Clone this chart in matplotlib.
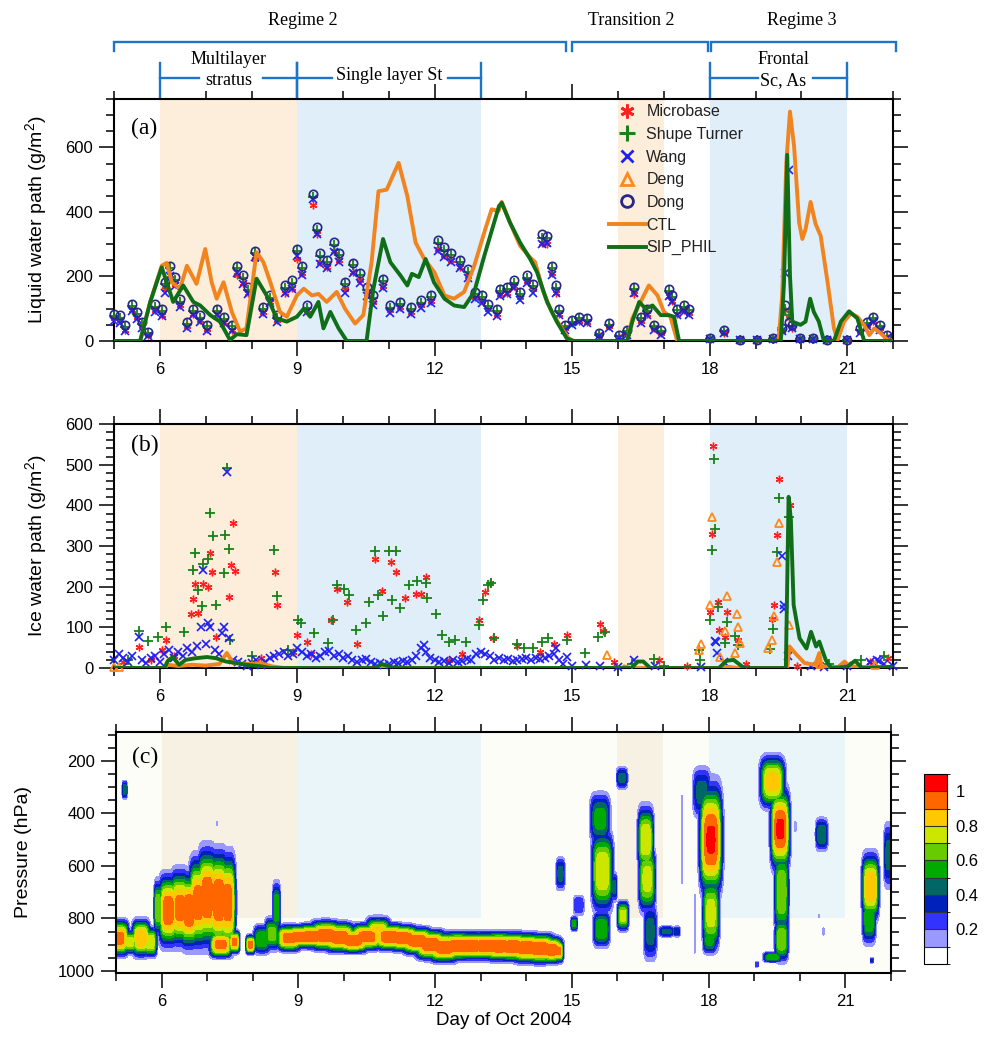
import numpy as np
import matplotlib
matplotlib.use('Agg')
import matplotlib.pyplot as plt
from matplotlib.ticker import MultipleLocator, FixedLocator
from matplotlib.colors import ListedColormap, BoundaryNorm
from matplotlib.lines import Line2D
from matplotlib.patches import Rectangle
import matplotlib.transforms as mtransforms

plt.rcParams['font.family'] = ['Liberation Sans', 'DejaVu Sans']
plt.rcParams['mathtext.fontset'] = 'custom'
plt.rcParams['mathtext.rm'] = 'Liberation Sans'
plt.rcParams['mathtext.it'] = 'Liberation Sans:italic'
SERIF = ['Liberation Serif', 'DejaVu Serif']

# ---------------- shaded periods ----------------
shade_start = [6, 9, 16, 18]
shade_end = [9, 13, 17, 21]
shade_kind = ['tan', 'blue', 'tan', 'blue']

# ---------------- LWP observations ----------------
t_lwp = [5.00, 5.13, 5.24, 5.39, 5.50, 5.60, 5.75, 5.90, 6.04, 6.11,
         6.22, 6.33, 6.44, 6.59, 6.73, 6.88, 7.02, 7.24, 7.39, 7.57,
         7.68, 7.82, 7.93, 8.08, 8.26, 8.41, 8.55, 8.73, 8.88, 8.99,
         9.10, 9.21, 9.35, 9.42, 9.50, 9.64, 9.79, 9.90, 10.04, 10.22,
         10.37, 10.51, 10.66, 10.88, 11.03, 11.25, 11.47, 11.69, 11.91, 12.06,
         12.21, 12.36, 12.54, 12.72, 12.87, 13.02, 13.16, 13.35, 13.43, 13.57,
         13.72, 13.86, 14.01, 14.15, 14.33, 14.44, 14.55, 14.65, 14.70, 14.85,
         15.00, 15.14, 15.32, 15.58, 15.80, 16.02, 16.20, 16.35, 16.49, 16.64,
         16.78, 16.93, 17.11, 17.18, 17.29, 17.43, 17.54, 18.01, 18.30, 18.66,
         19.03, 19.39, 19.57, 19.65, 19.72, 19.79, 19.97, 20.26, 20.55, 20.99,
         21.28, 21.43, 21.57, 21.72, 21.86]
lwp_dong = [85, 80, 50, 115, 90, 60, 29, 113, 100, 182,
            233, 198, 130, 60, 100, 80, 50, 100, 75, 50,
            233, 203, 167, 280, 105, 141, 80, 172, 188, 285,
            233, 110, 457, 354, 272, 252, 308, 272, 182, 241,
            211, 167, 141, 193, 110, 121, 105, 126, 141, 313,
            290, 272, 252, 223, 152, 141, 115, 100, 162, 167,
            188, 152, 203, 177, 331, 326, 233, 172, 100, 50,
            65, 75, 70, 24, 55, 18, 33, 167, 75, 100,
            50, 33, 162, 141, 100, 110, 100, 8, 33, 3,
            3, 8, 40, 110, 60, 50, 8, 8, 3, 3,
            40, 60, 75, 50, 18]
lwp_microbase = [70, 65, 35, 95, 75, 45, 20, 95, 80, 160,
                 205, 175, 110, 45, 85, 65, 38, 85, 60, 35,
                 205, 180, 150, 255, 90, 120, 65, 150, 165, 255,
                 210, 95, 420, 330, 245, 230, 280, 250, 160, 215,
                 190, 145, 120, 170, 95, 105, 90, 110, 125, 285,
                 265, 250, 230, 200, 135, 125, 100, 85, 145, 150,
                 170, 135, 185, 160, 305, 300, 210, 150, 85, 40,
                 55, 62, 58, 18, 45, 12, 25, 145, 62, 85,
                 40, 25, 140, 125, 85, 95, 88, 5, 25, 2,
                 2, 5, 30, 95, 70, 40, 5, 5, 2, 2,
                 30, 50, 62, 40, 12]
lwp_shupe = [78, 72, 42, 108, 82, 52, 25, 105, 92, 175,
             225, 190, 122, 52, 92, 72, 45, 92, 68, 45,
             225, 195, 158, 272, 98, 132, 72, 165, 180, 278,
             225, 102, 445, 345, 262, 245, 298, 265, 175, 235,
             205, 158, 132, 185, 102, 115, 98, 118, 135, 305,
             282, 265, 245, 215, 145, 135, 108, 92, 155, 160,
             180, 145, 195, 170, 320, 318, 225, 165, 92, 45,
             60, 70, 65, 20, 50, 15, 30, 160, 70, 92,
             45, 30, 155, 135, 95, 105, 95, 6, 30, 2,
             2, 6, 35, 100, 80, 45, 6, 6, 2, 2,
             35, 55, 70, 45, 15]
lwp_wang = [62, 55, 30, 92, 68, 40, 15, 90, 78, 150,
            200, 170, 105, 40, 80, 60, 30, 80, 55, 30,
            210, 178, 145, 260, 85, 118, 60, 148, 160, 262,
            205, 90, 440, 330, 240, 225, 275, 245, 150, 210,
            180, 140, 112, 165, 88, 100, 85, 102, 118, 280,
            260, 245, 225, 195, 130, 118, 90, 78, 140, 145,
            165, 128, 180, 150, 300, 305, 205, 148, 80, 35,
            50, 58, 55, 15, 40, 10, 20, 150, 55, 80,
            35, 20, 140, 120, 80, 90, 80, 5, 25, 2,
            2, 5, 30, 212, 530, 40, 5, 5, 2, 2,
            25, 45, 60, 35, 10]

# ---------------- LWP model ----------------
ctl_lwp_t = [5.0, 5.57, 5.79, 6.04, 6.15, 6.26, 6.44, 6.59, 6.80, 6.99, 7.13, 7.24, 7.39, 7.57,
             7.75, 7.89, 8.11, 8.26, 8.41, 8.62, 8.77, 8.99, 9.14, 9.32, 9.46, 9.64, 9.86,
             10.04, 10.26, 10.44, 10.62, 10.77, 10.95, 11.21, 11.40, 11.58, 11.77, 11.99,
             12.21, 12.42, 12.64, 12.86, 13.10, 13.24, 13.39, 13.46, 13.64, 13.86, 14.08,
             14.19, 14.37, 14.55, 14.77, 14.92, 15.03, 16.20, 16.31, 16.49, 16.67, 16.86,
             17.00, 17.14, 17.29, 19.50, 19.58, 19.67, 19.75, 19.84, 19.95, 20.02, 20.09,
             20.20, 20.31, 20.42, 20.57, 20.71, 20.79, 20.93, 21.08, 21.22, 21.37, 21.48,
             21.59, 21.73, 21.88, 22.0]
ctl_lwp_v = [0, 0, 121, 233, 242, 182, 162, 233, 177, 285, 182, 131, 182, 90,
             29, 39, 275, 244, 182, 90, 75, 141, 162, 141, 146, 121, 152,
             100, 54, 80, 244, 464, 469, 552, 449, 305, 254, 213,
             141, 131, 152, 233, 346, 408, 403, 431, 367, 295, 259,
             244, 152, 90, 39, 8, 0, 0, 70, 121, 172, 141,
             90, 75, 0, 0, 141, 552, 711, 603, 367, 316, 346,
             431, 362, 326, 182, 39, 3, 60, 85, 75, 49, 18,
             39, 24, 3, 0]
sip_lwp_t = [5.0, 5.57, 5.79, 6.04, 6.15, 6.29, 6.51, 6.73, 6.88, 7.10, 7.31, 7.53, 7.68, 7.89,
             8.11, 8.33, 8.55, 8.77, 8.99, 9.14, 9.28, 9.46, 9.57, 9.72, 9.90, 10.08, 10.51,
             10.66, 10.87, 11.03, 11.25, 11.40, 11.50, 11.65, 11.80, 11.98, 12.21, 12.42,
             12.64, 12.86, 13.08, 13.40, 13.46, 13.64, 13.86, 14.08, 14.23, 14.45, 14.66,
             14.88, 15.03, 16.20, 16.31, 16.46, 16.60, 16.75, 16.93, 17.11, 17.22, 17.33,
             19.55, 19.62, 19.69, 19.75, 19.80, 19.98, 20.09, 20.19, 20.27, 20.38, 20.49,
             20.71, 20.86, 21.04, 21.22, 21.37, 22.0]
sip_lwp_v = [0, 0, 121, 228, 182, 121, 172, 121, 110, 80, 60, 3, 21, 18,
             193, 141, 70, 60, 75, 100, 75, 121, 39, 90, 39, 0, 0,
             162, 316, 244, 203, 172, 208, 198, 254, 182, 131, 110,
             105, 152, 264, 418, 428, 367, 305, 254, 213, 121, 60,
             8, 0, 0, 60, 121, 100, 110, 80, 80, 75, 0,
             0, 182, 577, 203, 60, 50, 60, 131, 90, 60, 0,
             0, 60, 92, 70, 0, 0]

# ---------------- IWP observations ----------------
mb_iwp_t = [5.2, 5.54, 5.8, 6.04, 6.13, 6.3, 6.68, 6.73, 6.77, 6.84, 6.94, 7.05, 7.10, 7.14,
            7.23, 7.51, 7.55, 7.59, 7.64, 8.2, 8.51, 8.55, 8.9, 9.00, 9.2, 9.3, 9.73, 9.86,
            10.09, 10.3, 10.70, 10.84, 11.04, 11.15, 11.36, 11.58, 11.69, 11.80, 12.3,
            12.6, 12.96, 13.10, 13.20, 13.26, 13.79, 14.3, 14.6, 14.88, 15.61, 15.67,
            15.9, 16.9, 17.5, 18.01, 18.05, 18.08, 18.17, 18.21, 18.34, 18.37, 18.62,
            18.8, 19.36, 19.41, 19.46, 19.50, 19.75, 19.9, 20.4, 21.5, 21.9]
mb_iwp_v = [15, 52, 20, 44, 70, 30, 134, 170, 206, 136, 206, 200, 283, 237,
            77, 175, 253, 357, 239, 25, 235, 155, 40, 81, 64, 35, 118, 194,
            162, 60, 267, 189, 261, 237, 171, 183, 183, 225, 20,
            35, 119, 187, 208, 74, 54, 40, 60, 82, 108, 92,
            15, 20, 5, 139, 329, 546, 163, 93, 77, 137, 68,
            10, 120, 155, 327, 465, 400, 5, 10, 15, 25]
st_iwp_t = [5.3, 5.55, 5.75, 5.96, 6.13, 6.53, 6.73, 6.77, 6.84, 6.91, 6.95, 7.05, 7.10, 7.16,
            7.23, 7.40, 7.42, 7.46, 7.50, 7.53, 8.0, 8.48, 8.55, 8.8, 9.01, 9.08, 9.37,
            9.66, 9.77, 9.86, 10.02, 10.12, 10.28, 10.50, 10.57, 10.69, 10.75, 10.86,
            11.00, 11.07, 11.15, 11.25, 11.43, 11.62, 11.80, 11.84, 12.02, 12.16, 12.31,
            12.45, 12.67, 12.96, 13.06, 13.15, 13.22, 13.30, 13.79, 13.94, 14.15, 14.33,
            14.48, 14.88, 15.28, 15.57, 15.72, 16.3, 16.78, 17.0, 17.76, 17.79, 18.01,
            18.05, 18.09, 18.12, 18.17, 18.34, 18.37, 18.55, 18.62, 19.32, 19.39, 19.46,
            19.50, 19.72, 20.6, 21.3, 21.8]
st_iwp_v = [20, 92, 67, 77, 101, 88, 240, 282, 193, 152, 257, 267, 382, 325,
            154, 234, 327, 491, 292, 69, 30, 290, 178, 45, 118, 110, 87,
            61, 118, 204, 194, 180, 94, 110, 163, 289, 180, 127,
            289, 168, 289, 148, 204, 213, 209, 173, 134, 81, 65,
            69, 65, 106, 167, 204, 209, 75, 59, 49, 49, 65,
            73, 69, 36, 77, 89, 10, 21, 5, 44, 20, 118,
            290, 514, 343, 149, 61, 112, 79, 57, 46, 95, 286,
            417, 372, 10, 20, 30]
wang_iwp_t = [5.0, 5.1, 5.2, 5.3, 5.4, 5.54, 5.6, 5.7, 5.8, 5.9, 6.0, 6.1, 6.2, 6.3, 6.4, 6.5,
              6.6, 6.7, 6.8, 6.9, 6.95, 7.0, 7.06, 7.1, 7.2, 7.3, 7.35, 7.4, 7.46, 7.5, 7.6,
              7.7, 7.8, 7.9, 8.0, 8.1, 8.2, 8.3, 8.4, 8.5, 8.6, 8.7, 8.8, 8.9, 9.0, 9.1, 9.2,
              9.3, 9.4, 9.5, 9.6, 9.7, 9.8, 9.9, 10.0, 10.1, 10.2, 10.3, 10.4, 10.5, 10.6,
              10.7, 10.8, 10.9, 11.0, 11.1, 11.2, 11.3, 11.4, 11.5, 11.6, 11.7, 11.76, 11.8,
              11.9, 12.0, 12.1, 12.2, 12.3, 12.4, 12.5, 12.6, 12.7, 12.8, 12.9, 13.0, 13.1,
              13.2, 13.3, 13.4, 13.5, 13.6, 13.7, 13.8, 13.9, 14.0, 14.1, 14.2, 14.3, 14.4,
              14.5, 14.6, 14.65, 14.7, 14.8, 14.88, 15.0, 15.3, 15.6, 16.0, 16.35, 16.8, 17.8,
              18.11, 18.13, 18.16, 18.3, 19.57, 19.61, 19.63, 19.7, 20.2, 20.5, 21.0, 21.5,
              21.65, 21.7, 21.8, 22.0]
wang_iwp_v = [20, 35, 25, 15, 30, 77, 20, 12, 25, 30, 15, 35, 45, 25, 40, 30,
              50, 40, 55, 100, 240, 60, 110, 100, 45, 35, 85, 100, 482, 75, 20,
              15, 10, 5, 12, 20, 8, 15, 25, 30, 35, 40, 30, 35, 50, 40, 30,
              35, 25, 30, 40, 42, 30, 35, 25, 30, 20, 15, 20, 22, 15,
              10, 12, 8, 10, 15, 12, 18, 15, 20, 30, 50, 57, 40,
              25, 20, 15, 18, 12, 20, 15, 18, 22, 20, 35, 40, 35,
              30, 20, 25, 20, 22, 18, 20, 22, 25, 20, 25, 22, 25,
              30, 35, 50, 20, 10, 26, 5, 8, 5, 3, 20, 5, 3,
              66, 65, 37, 15, 275, 155, 145, 30, 5, 3, 5, 15,
              20, 18, 10, 5]
deng_iwp_t = [5.0, 5.1, 15.76, 17.77, 17.81, 18.00, 18.05, 18.22, 18.34, 18.37, 18.55, 18.59,
              18.62, 18.66, 19.28, 19.36, 19.41, 19.47, 19.50, 19.72, 20.4, 21.6]
deng_iwp_v = [2, 2, 32, 44, 58, 155, 372, 27, 92, 177, 36, 134,
              101, 62, 49, 69, 127, 261, 356, 106, 10, 8]

# ---------------- IWP model ----------------
ctl_iwp_t = [5.0, 6.1, 6.17, 6.4, 6.7, 7.0, 7.3, 7.46, 7.6, 8.0, 8.2, 8.45, 8.7, 16.1, 16.13,
             16.3, 18.2, 18.4, 18.6, 19.69, 19.74, 19.86, 20.07, 20.3, 20.39, 20.44, 20.8,
             20.94, 21.05, 22.0]
ctl_iwp_v = [0, 0, 8, 5, 8, 6, 10, 37, 12, 10, 12, 4, 0, 0, 4,
             0, 0, 3, 0, 0, 53, 37, 12, 8, 37, 4, 2,
             16, 4, 0]
sip_iwp_t = [5.0, 6.1, 6.17, 6.28, 6.42, 6.56, 6.77, 7.03, 7.23, 7.44, 7.68, 7.88, 8.22, 8.41,
             10.7, 10.84, 11.06, 11.2, 16.3, 16.42, 16.55, 16.7, 18.2, 18.37, 18.52, 18.75,
             19.66, 19.72, 19.77, 19.83, 19.96, 20.11, 20.21, 20.32, 20.39, 20.53, 20.65,
             21.0, 21.17, 21.32, 22.0]
sip_iwp_v = [0, 0, 17, 27, 8, 20, 24, 27, 24, 16, 12, 8, 4, 0,
             0, 10, 2, 0, 0, 16, 16, 0, 0, 18, 20, 0,
             0, 421, 364, 155, 73, 48, 89, 53, 65, 20, 0,
             3, 18, 0, 3]

# ---------------- cloud fraction features (panel c) ----------------
# each feature: centre day, centre pressure, time half-scale, pressure half-scale, peak fraction
cld_t = [5.08, 5.30, 5.55, 5.75, 5.19, 5.92, 6.15, 6.40, 6.60, 6.80, 7.00, 7.25, 7.45,
         7.30, 7.60, 7.22, 7.95, 8.20, 8.52, 8.42,
         8.80, 9.05, 9.30, 9.60, 9.90, 10.20, 10.50, 10.75, 11.00, 11.30, 11.60, 11.90,
         12.20, 12.50, 12.80, 13.10, 13.40, 13.70, 14.00, 14.30, 14.55, 14.70,
         14.75, 15.05, 15.15, 15.62, 15.67, 15.65, 15.93, 16.10, 16.12, 16.62, 16.65,
         16.72, 17.08, 17.30, 17.42, 17.70, 17.85, 18.05, 18.05, 18.02, 19.40, 19.57,
         19.60, 19.60, 19.40, 19.06, 19.90, 20.48, 20.52, 20.42, 21.55, 21.52, 21.95,
         21.58]
cld_p = [875, 890, 875, 890, 310, 760, 770, 760, 770, 740, 720, 730, 740,
         900, 890, 440, 900, 880, 760, 860,
         875, 870, 868, 865, 872, 884, 870, 852, 870, 875, 885, 900,
         910, 905, 905, 905, 906, 908, 912, 915, 920, 925,
         630, 820, 750, 420, 620, 840, 680, 265, 790, 500, 650,
         850, 850, 850, 500, 820, 320, 500, 780, 880, 280, 460,
         700, 880, 948, 975, 450, 480, 850, 790, 680, 800, 560,
         960]
cld_st = [0.16, 0.14, 0.16, 0.12, 0.045, 0.07, 0.17, 0.17, 0.16, 0.16, 0.17, 0.17, 0.14,
          0.2, 0.09, 0.017, 0.08, 0.15, 0.07, 0.13,
          0.22, 0.28, 0.28, 0.28, 0.28, 0.28, 0.28, 0.22, 0.28, 0.28, 0.28, 0.28,
          0.28, 0.28, 0.28, 0.28, 0.28, 0.28, 0.28, 0.28, 0.2, 0.09,
          0.08, 0.06, 0.10, 0.18, 0.19, 0.15, 0.05, 0.10, 0.10, 0.14, 0.15,
          0.12, 0.14, 0.06, 0.013, 0.013, 0.16, 0.20, 0.15, 0.12, 0.22, 0.17,
          0.13, 0.12, 0.16, 0.035, 0.022, 0.11, 0.017, 0.013, 0.15, 0.12, 0.09,
          0.028]
cld_sp = [48, 32, 50, 40, 25, 75, 95, 100, 100, 120, 130, 130, 130,
          35, 30, 8, 25, 40, 70, 45,
          35, 31, 33, 40, 40, 33, 36, 40, 36, 35, 36, 40,
          40, 38, 37, 37, 39, 39, 40, 40, 35, 30,
          45, 20, 30, 70, 110, 50, 40, 30, 40, 90, 90,
          80, 15, 15, 180, 120, 70, 150, 100, 40, 70, 110,
          120, 60, 14, 8, 20, 45, 15, 8, 90, 70, 90,
          8]
cld_amp = [0.95, 0.75, 0.90, 0.80, 0.50, 0.70, 0.98, 0.95, 1.00, 0.97, 1.00, 1.00, 0.97,
           0.95, 0.95, 0.15, 0.97, 0.60, 0.60, 0.65,
           0.96, 0.99, 0.99, 0.99, 0.99, 0.99, 0.97, 0.85, 0.99, 0.99, 0.99, 0.99,
           0.99, 0.99, 0.99, 0.99, 0.99, 0.99, 0.99, 0.99, 0.99, 0.95,
           0.45, 0.55, 0.30, 0.55, 0.80, 0.60, 0.45, 0.45, 0.75, 0.80, 0.75,
           0.45, 0.45, 0.40, 0.15, 0.15, 0.45, 1.02, 0.75, 0.55, 0.85, 1.02,
           0.70, 0.70, 0.60, 0.30, 0.15, 0.50, 0.15, 0.12, 0.90, 0.60, 0.45,
           0.35]

cf_levels = [0.0, 0.1, 0.2, 0.3, 0.4, 0.5, 0.6, 0.7, 0.8, 0.9, 1.0, 1.1]
cf_colors = [(1, 1, 1, 0), '#9999FF', '#3333FF', '#0022BB', '#006666', '#00AA00',
             '#66CC00', '#CCE600', '#FFC800', '#FF6600', '#FF0000']

# ---------------- styles ----------------
RED = '#FF2020'
GRN = '#1A801A'
BLU = '#2020F0'
ORG = '#FF8A1A'
NAVY = '#26268C'
CTL_C = '#F0841E'
SIP_C = '#0F6E17'
BR_C = '#1C75C8'
TAN = '#FCEEDA'
LBL = '#E0EEFA'
TAN_C = '#F7F1E4'
LBL_C = '#EAF5FA'
ASTER = (6, 2, 0)

fig = plt.figure(figsize=(9.84, 10.52), dpi=100)
axA = fig.add_axes([0.1159, 0.6759, 0.7917, 0.2300])
axB = fig.add_axes([0.1159, 0.3650, 0.7917, 0.2319])
axC = fig.add_axes([0.1179, 0.0751, 0.7876, 0.2291])
cax = fig.add_axes([0.939, 0.0837, 0.0234, 0.1806])


def style(ax, ymaj, ymin):
    ax.set_xlim(5, 22)
    ax.xaxis.set_major_locator(FixedLocator([6, 9, 12, 15, 18, 21]))
    ax.xaxis.set_minor_locator(MultipleLocator(1))
    ax.yaxis.set_major_locator(MultipleLocator(ymaj))
    ax.yaxis.set_minor_locator(MultipleLocator(ymin))
    ax.tick_params(which='both', direction='out', top=True, right=True, width=1.1,
                   labelsize=12, colors='black')
    ax.tick_params(which='major', length=11, pad=4)
    ax.tick_params(which='minor', length=6)
    for s in ax.spines.values():
        s.set_linewidth(1.5)


def shade(ax, colors, top=None, bottom=None):
    for s, e, k in zip(shade_start, shade_end, shade_kind):
        c = colors[0] if k == 'tan' else colors[1]
        if top is None:
            ax.axvspan(s, e, color=c, lw=0, zorder=0)
        else:
            ax.add_patch(Rectangle((s, bottom), e - s, top - bottom, facecolor=c, lw=0, zorder=0))


def scatter(ax, t, v, marker, color, ms, mew=1.0):
    n = min(len(t), len(v))
    ax.plot(t[:n], v[:n], ls='none', marker=marker, ms=ms, mec=color, mfc='none',
            mew=mew, zorder=3, clip_on=False)


# ---------- panel (a) ----------
style(axA, 200, 50)
axA.set_ylim(0, 750)
shade(axA, (TAN, LBL))
scatter(axA, t_lwp, lwp_microbase, ASTER, RED, 5.5)
scatter(axA, t_lwp, lwp_shupe, '+', GRN, 6.5, 1.3)
scatter(axA, t_lwp, lwp_wang, 'x', BLU, 6, 1.2)
scatter(axA, t_lwp, lwp_dong, 'o', NAVY, 6, 1.2)
axA.plot(ctl_lwp_t, ctl_lwp_v, color=CTL_C, lw=2.8, zorder=4, solid_joinstyle='round')
axA.plot(sip_lwp_t, sip_lwp_v, color=SIP_C, lw=2.8, zorder=5, solid_joinstyle='round')
axA.set_ylabel('Liquid water path (g/m$^2$)', fontsize=14)
axA.yaxis.set_label_coords(-0.083, 0.5)
axA.text(0.022, 0.88, '(a)', transform=axA.transAxes, fontsize=17, family=SERIF, va='center')

handles = [
    Line2D([], [], ls='none', marker=ASTER, ms=10, mec=RED, mew=2),
    Line2D([], [], ls='none', marker='+', ms=11, mec=GRN, mew=2.2),
    Line2D([], [], ls='none', marker='x', ms=9, mec=BLU, mew=2),
    Line2D([], [], ls='none', marker='^', ms=9, mec=ORG, mfc='none', mew=2),
    Line2D([], [], ls='none', marker='o', ms=8.5, mec=NAVY, mfc='none', mew=2),
    Line2D([], [], color=CTL_C, lw=2.8),
    Line2D([], [], color=SIP_C, lw=2.8),
]
labels = ['Microbase', 'Shupe Turner', 'Wang', 'Deng', 'Dong', 'CTL', 'SIP_PHIL']
leg = axA.legend(handles, labels, loc='upper left', bbox_to_anchor=(0.633, 0.985),
                 frameon=False, fontsize=11.5, handlelength=2.3, handletextpad=0.05,
                 labelspacing=0.48, borderpad=0.1, borderaxespad=0)
for txt in leg.get_texts():
    txt.set_color('#222222')

# top brackets
trans = mtransforms.blended_transform_factory(axA.transData, axA.transAxes)
br_start = [5.0, 15.0, 18.03]
br_end = [14.87, 17.97, 22.07]
br_labels = ['Regime 2', 'Transition 2', 'Regime 3']
br_label_x = [9.13, 16.29, 20.0]
for s, e, lab, lx in zip(br_start, br_end, br_labels, br_label_x):
    axA.plot([s, s, e, e], [1.198, 1.2355, 1.2355, 1.198], transform=trans, clip_on=False,
             color=BR_C, lw=1.7, solid_joinstyle='miter')
    axA.text(lx, 1.326, lab, transform=trans, ha='center', va='center', fontsize=13, family=SERIF)

sub_start = [6, 9, 18]
sub_end = [9, 13, 21]
sub_gap_l = [6.86, 9.76, 19.06]
sub_gap_r = [8.25, 12.29, 20.26]
sub_labels = [['Multilayer', 'stratus'], ['Single layer St'], ['Frontal', 'Sc, As']]
sub_label_x = [7.5, 11.0, 19.6]
for s, e, gl, gr, lab, lx in zip(sub_start, sub_end, sub_gap_l, sub_gap_r, sub_labels, sub_label_x):
    for xx in (s, e):
        axA.plot([xx, xx], [1.008, 1.149], transform=trans, clip_on=False, color=BR_C, lw=1.7)
    axA.plot([s, gl], [1.0868, 1.0868], transform=trans, clip_on=False, color=BR_C, lw=1.7)
    axA.plot([gr, e], [1.0868, 1.0868], transform=trans, clip_on=False, color=BR_C, lw=1.7)
    if len(lab) == 2:
        axA.text(lx, 1.163, lab[0], transform=trans, ha='center', va='center', fontsize=13, family=SERIF)
        axA.text(lx, 1.078, lab[1], transform=trans, ha='center', va='center', fontsize=13, family=SERIF)
    else:
        axA.text(lx, 1.097, lab[0], transform=trans, ha='center', va='center', fontsize=13, family=SERIF)

# ---------- panel (b) ----------
style(axB, 100, 20)
axB.set_ylim(0, 600)
shade(axB, (TAN, LBL))
scatter(axB, mb_iwp_t, mb_iwp_v, ASTER, RED, 5.5)
scatter(axB, st_iwp_t, st_iwp_v, '+', GRN, 6.5, 1.3)
scatter(axB, wang_iwp_t, wang_iwp_v, 'x', BLU, 6, 1.2)
scatter(axB, deng_iwp_t, deng_iwp_v, '^', ORG, 6, 1.3)
axB.plot(ctl_iwp_t, ctl_iwp_v, color=CTL_C, lw=2.8, zorder=4, solid_joinstyle='round')
axB.plot(sip_iwp_t, sip_iwp_v, color=SIP_C, lw=2.8, zorder=5, solid_joinstyle='round')
axB.set_ylabel('Ice water path (g/m$^2$)', fontsize=14)
axB.yaxis.set_label_coords(-0.083, 0.5)
axB.text(0.022, 0.914, '(b)', transform=axB.transAxes, fontsize=17, family=SERIF, va='center')

# ---------- panel (c) ----------
style(axC, 200, 50)
axC.set_facecolor('#FDFDF7')
axC.set_ylim(1008, 90)
shade(axC, (TAN_C, LBL_C), top=90, bottom=800)
tt = np.arange(5.0, 22.0001, 0.005)
pp = np.arange(90, 1011, 4.0)
T, P = np.meshgrid(tt, pp)
field = np.zeros_like(T)
for t0, p0, st, sp, a in zip(cld_t, cld_p, cld_st, cld_sp, cld_amp):
    ex = np.abs((T - t0) / st) ** 4 + np.abs((P - p0) / sp) ** 3
    field = np.maximum(field, a * np.exp(-0.5 * ex))
cmap = ListedColormap(cf_colors)
norm = BoundaryNorm(cf_levels, cmap.N)
cs = axC.contourf(T, P, field, levels=cf_levels, cmap=cmap, norm=norm, zorder=2)
axC.set_ylabel('Pressure (hPa)', fontsize=14)
axC.yaxis.set_label_coords(-0.108, 0.5)
axC.set_xlabel('Day of Oct 2004', fontsize=13.5, labelpad=2)
axC.text(0.02, 0.896, '(c)', transform=axC.transAxes, fontsize=17, family=SERIF, va='center')

cb = fig.colorbar(cs, cax=cax, ticks=[0.2, 0.4, 0.6, 0.8, 1.0], drawedges=True)
cb.ax.set_yticklabels(['0.2', '0.4', '0.6', '0.8', '1'])
cb.ax.tick_params(length=0, labelsize=12, pad=6)
cb.outline.set_linewidth(0.8)
cb.dividers.set_linewidth(0.8)
cb.dividers.set_color('#333333')

fig.savefig('out.png', dpi=100, facecolor='white')
